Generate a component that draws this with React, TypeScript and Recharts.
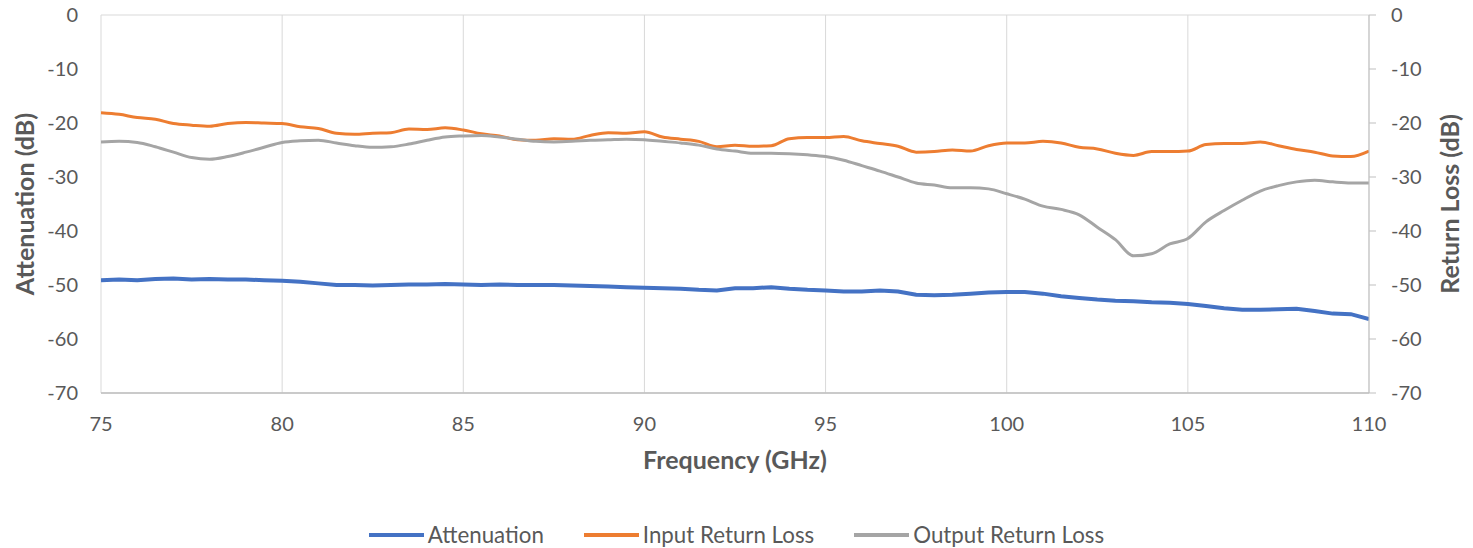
import { LineChart, Line, XAxis, YAxis, CartesianGrid, Legend } from "recharts"

// frequency points (GHz)
const frequency = [
  75, 75.5, 76, 76.5, 77, 77.5, 78, 78.5, 79, 79.5,
  80, 80.5, 81, 81.5, 82, 82.5, 83, 83.5, 84, 84.5,
  85, 85.5, 86, 86.5, 87, 87.5, 88, 88.5, 89, 89.5,
  90, 90.5, 91, 91.5, 92, 92.5, 93, 93.5, 94, 94.5,
  95, 95.5, 96, 96.5, 97, 97.5, 98, 98.5, 99, 99.5,
  100, 100.5, 101, 101.5, 102, 102.5, 103, 103.5, 104, 104.5,
  105, 105.5, 106, 106.5, 107, 107.5, 108, 108.5, 109, 109.5,
  110,
]

const attenuation = [
  -49.1, -49.0, -49.1, -48.9, -48.8, -49.0, -48.9, -49.0, -49.0, -49.1,
  -49.2, -49.4, -49.7, -50.0, -50.0, -50.1, -50.0, -49.9, -49.9, -49.8,
  -49.9, -50.0, -49.9, -50.0, -50.0, -50.0, -50.1, -50.2, -50.3, -50.4,
  -50.5, -50.6, -50.7, -50.9, -51.0, -50.6, -50.6, -50.4, -50.7, -50.9,
  -51.0, -51.2, -51.2, -51.0, -51.2, -51.8, -51.9, -51.8, -51.6, -51.4,
  -51.3, -51.3, -51.6, -52.1, -52.4, -52.7, -52.9, -53.0, -53.2, -53.3,
  -53.5, -53.9, -54.3, -54.6, -54.6, -54.5, -54.4, -54.8, -55.3, -55.4,
  -56.3,
]

const inputReturnLoss = [
  -18.1, -18.4, -19.0, -19.3, -20.1, -20.4, -20.6, -20.1, -19.9, -20.0,
  -20.1, -20.7, -21.0, -21.9, -22.1, -21.9, -21.8, -21.1, -21.2, -20.9,
  -21.3, -22.0, -22.4, -23.1, -23.2, -22.9, -23.0, -22.3, -21.8, -21.9,
  -21.6, -22.6, -23.0, -23.4, -24.4, -24.1, -24.3, -24.2, -22.9, -22.7,
  -22.7, -22.5, -23.3, -23.8, -24.3, -25.4, -25.3, -25.0, -25.2, -24.2,
  -23.7, -23.7, -23.4, -23.7, -24.5, -24.8, -25.6, -26.0, -25.3, -25.3,
  -25.2, -24.0, -23.8, -23.8, -23.5, -24.2, -24.9, -25.4, -26.1, -26.2,
  -25.2,
]

const outputReturnLoss = [
  -23.5, -23.4, -23.6, -24.4, -25.4, -26.4, -26.7, -26.2, -25.4, -24.5,
  -23.6, -23.3, -23.2, -23.7, -24.2, -24.5, -24.4, -23.9, -23.2, -22.6,
  -22.4, -22.3, -22.6, -23.0, -23.4, -23.5, -23.4, -23.2, -23.1, -23.0,
  -23.1, -23.4, -23.7, -24.1, -24.8, -25.2, -25.6, -25.6, -25.7, -25.9,
  -26.2, -26.9, -27.9, -28.9, -30.0, -31.1, -31.5, -32.0, -32.0, -32.2,
  -33.1, -34.1, -35.4, -36.0, -37.0, -39.3, -41.6, -44.6, -44.2, -42.4,
  -41.4, -38.3, -36.2, -34.3, -32.6, -31.6, -30.9, -30.6, -30.9, -31.1,
  -31.1,
]

const freqTicks = [75, 80, 85, 90, 95, 100, 105, 110]
const dbTicks = [0, -10, -20, -30, -40, -50, -60, -70]

const series = [
  { key: "attenuation", name: "Attenuation", color: "#4472C4" },
  { key: "inputReturnLoss", name: "Input Return Loss", color: "#ED7D31" },
  { key: "outputReturnLoss", name: "Output Return Loss", color: "#A5A5A5" },
]

const chartData = frequency.map((f, i) => ({
  frequency: f,
  attenuation: attenuation[i],
  inputReturnLoss: inputReturnLoss[i],
  outputReturnLoss: outputReturnLoss[i],
}))

const FONT = "Lato, 'Open Sans', sans-serif"
const TEXT = "#595959"
const tickStyle = { fill: TEXT, fontSize: 20, fontFamily: FONT }
const titleStyle = { fill: TEXT, fontSize: 25, fontWeight: 700, fontFamily: FONT }

export default function App() {
  const renderLegend = () => (
    <div
      style={{
        display: "flex",
        justifyContent: "center",
        alignItems: "center",
        gap: 40,
        height: 28,
        fontFamily: FONT,
        fontSize: 22.3,
        color: TEXT,
      }}
    >
      {series.map((s) => (
        <div key={s.key} style={{ display: "flex", alignItems: "center" }}>
          <span style={{ display: "inline-block", width: 55, height: 4, background: s.color, marginRight: 4, marginTop: 2 }} />
          <span>{s.name}</span>
        </div>
      ))}
    </div>
  )

  return (
    <div style={{ width: 1457, height: 548, marginTop: -8, fontFamily: FONT }}>
      <LineChart width={1457} height={548} data={chartData} margin={{ top: 15, right: 0, bottom: 0, left: 0 }}>
        <CartesianGrid stroke="#d9d9d9" strokeWidth={1} />
        <XAxis
          dataKey="frequency"
          type="number"
          domain={[75, 110]}
          ticks={freqTicks}
          interval={0}
          allowDataOverflow
          height={127}
          stroke="#bfbfbf"
          strokeWidth={1.5}
          tickLine={false}
          tickSize={0}
          tickMargin={24}
          tick={tickStyle}
          label={{ value: "Frequency (GHz)", position: "insideTop", offset: 58, style: titleStyle }}
        />
        <YAxis
          yAxisId="left"
          domain={[-70, 0]}
          ticks={dbTicks}
          interval={0}
          width={93}
          axisLine={false}
          tickLine={false}
          tickSize={0}
          tickMargin={23}
          tick={tickStyle}
          label={{
            value: "Attenuation (dB)",
            angle: -90,
            position: "insideLeft",
            offset: 17,
            style: { ...titleStyle, textAnchor: "middle" },
          }}
        />
        <YAxis
          yAxisId="right"
          orientation="right"
          domain={[-70, 0]}
          ticks={dbTicks}
          interval={0}
          width={96}
          stroke="#bfbfbf"
          tickSize={7}
          tickMargin={15}
          tick={tickStyle}
          label={{
            value: "Return Loss (dB)",
            angle: -90,
            position: "insideRight",
            offset: 15,
            style: { ...titleStyle, textAnchor: "middle" },
          }}
        />
        <Legend verticalAlign="bottom" content={renderLegend} />
        <Line
          yAxisId="left"
          type="linear"
          dataKey="attenuation"
          name="Attenuation"
          stroke="#4472C4"
          strokeWidth={4}
          dot={false}
          isAnimationActive={false}
        />
        <Line
          yAxisId="right"
          type="monotone"
          dataKey="inputReturnLoss"
          name="Input Return Loss"
          stroke="#ED7D31"
          strokeWidth={3}
          dot={false}
          isAnimationActive={false}
        />
        <Line
          yAxisId="right"
          type="monotone"
          dataKey="outputReturnLoss"
          name="Output Return Loss"
          stroke="#A5A5A5"
          strokeWidth={3}
          dot={false}
          isAnimationActive={false}
        />
      </LineChart>
    </div>
  )
}
